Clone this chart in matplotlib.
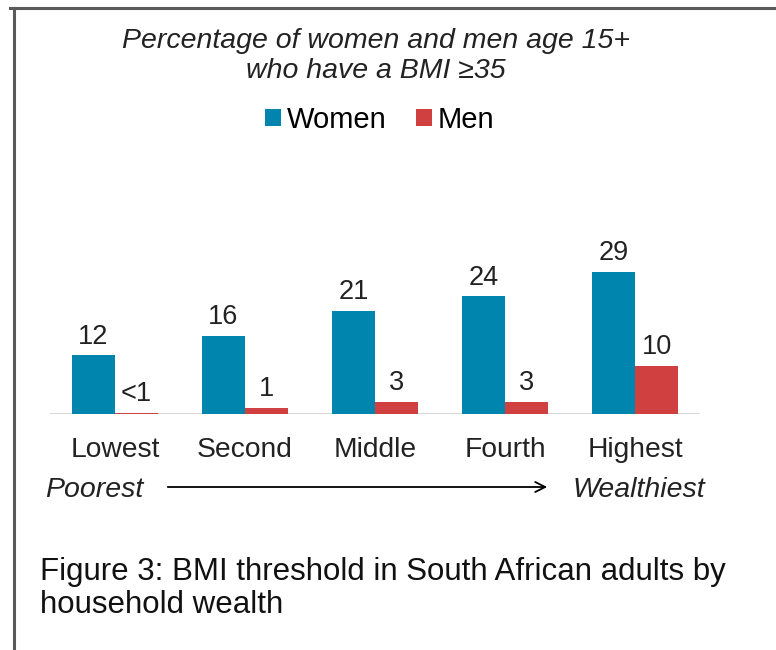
import matplotlib.pyplot as plt
from matplotlib.lines import Line2D
from matplotlib.patches import FancyArrowPatch
from matplotlib.transforms import blended_transform_factory
import numpy as np

plt.rcParams['font.family'] = ['Liberation Sans', 'DejaVu Sans']

# data
groups = ['Lowest', 'Second', 'Middle', 'Fourth', 'Highest']
women = [12, 16, 21, 24, 29]
men = [0.3, 1.3, 2.5, 2.5, 9.8]
women_labels = ['12', '16', '21', '24', '29']
men_labels = ['<1', '1', '3', '3', '10']

blue = '#0085AF'
red = '#D04040'
ink = '#222222'

W, H = 776, 650
fig = plt.figure(figsize=(W / 100, H / 100), dpi=100)

# axes placed in pixel terms
ax = fig.add_axes([50 / W, 1 - 414 / H, 650 / W, 157 / H])
x = np.arange(len(groups))
bw = 0.333
b1 = ax.bar(x - bw / 2, women, bw, color=blue, zorder=3)
b2 = ax.bar(x + bw / 2, men, bw, color=red, zorder=3)
ax.axhline(0, color='#D9D9D9', lw=2.2, zorder=2)
ax.set_xlim(-0.5, len(groups) - 0.5)
ax.set_ylim(0, 32)
ax.axis('off')

for bars, labels in ((b1, women_labels), (b2, men_labels)):
    for rect, lab in zip(bars, labels):
        ax.annotate(lab, (rect.get_x() + rect.get_width() / 2, rect.get_height()),
                    xytext=(0, 4), textcoords='offset points', ha='center', va='bottom',
                    fontsize=19.5, color=ink)

# category labels under the axis
tr = blended_transform_factory(ax.transData, fig.transFigure)
for xi, g in zip(x, groups):
    ax.text(xi, 1 - 450 / H, g, transform=tr, ha='center', va='center',
            fontsize=20.3, color=ink)

# title
fig.text(376 / W, 1 - 41 / H, 'Percentage of women and men age 15+', ha='center', va='center',
         fontsize=20.5, style='italic', color=ink)
fig.text(376 / W, 1 - 71 / H, 'who have a BMI \u226535', ha='center', va='center',
         fontsize=20.5, style='italic', color=ink)

# legend
fig.legend([b1, b2], ['Women', 'Men'], loc='center', bbox_to_anchor=(380 / W, 1 - 120 / H),
           ncol=2, frameon=False, fontsize=21, handlelength=0.55, handleheight=0.55,
           handletextpad=0.2, columnspacing=1.0, borderpad=0)

# wealth arrow
fig.text(45 / W, 1 - 490 / H, 'Poorest', ha='left', va='center', fontsize=20.5,
         style='italic', color=ink)
fig.text(705 / W, 1 - 490 / H, 'Wealthiest', ha='right', va='center', fontsize=20.5,
         style='italic', color=ink)
fig.add_artist(FancyArrowPatch(
    (165 / W, 1 - 487 / H), (550 / W, 1 - 487 / H), transform=fig.transFigure,
    arrowstyle='->', mutation_scale=18, lw=1.3, color='black'))

# caption
fig.text(40 / W, 1 - 572 / H, 'Figure 3: BMI threshold in South African adults by',
         ha='left', va='center', fontsize=22.5, color='#111111')
fig.text(40 / W, 1 - 605 / H, 'household wealth', ha='left', va='center', fontsize=22.5,
         color='#111111')

# frame lines
fig.add_artist(Line2D([10 / W, 1], [1 - 8 / H, 1 - 8 / H], transform=fig.transFigure,
                      color='#5a5a5a', lw=2.2))
fig.add_artist(Line2D([14 / W, 14 / W], [1 - 8 / H, 0], transform=fig.transFigure,
                      color='#5a5a5a', lw=2.2))

fig.savefig('out.png', dpi=100)
